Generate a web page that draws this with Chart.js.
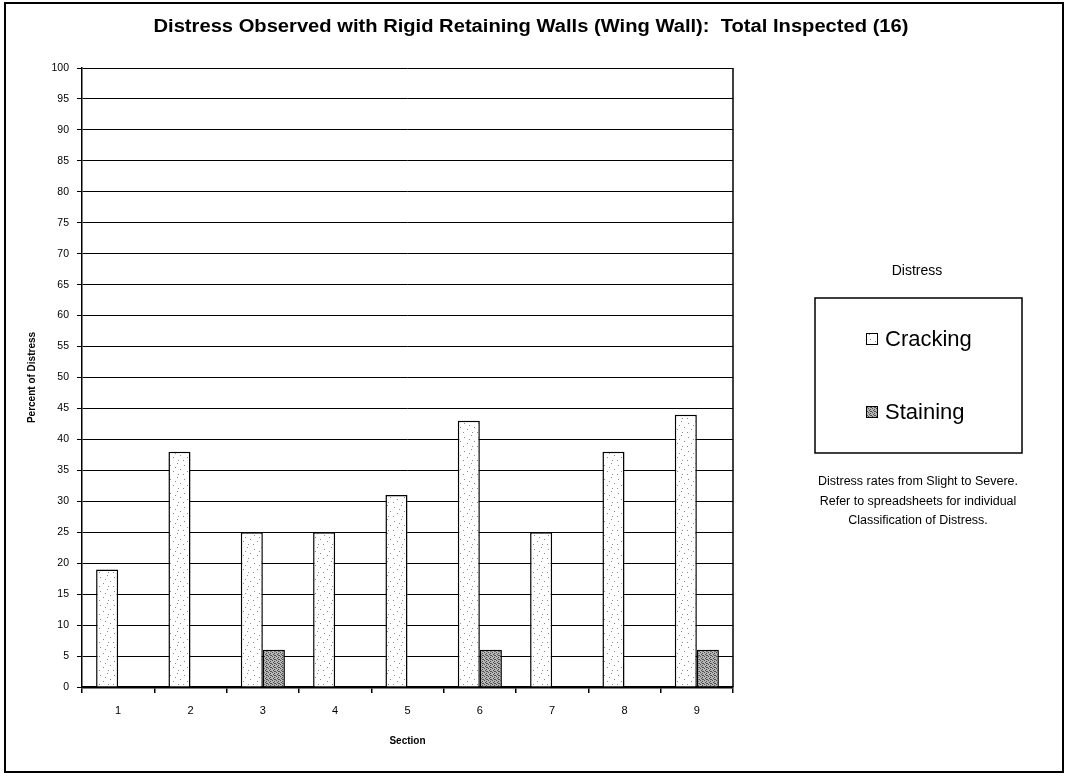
<!DOCTYPE html>
<html>
<head>
<meta charset="utf-8">
<script src="https://cdn.jsdelivr.net/npm/chart.js@4.4.0/dist/chart.umd.min.js"></script>
<style>
  html, body { margin: 0; padding: 0; background: #fff; }
  #wrap { position: relative; width: 1065px; height: 774px; }
</style>
</head>
<body>
<div id="wrap"><canvas id="chart" width="1065" height="774"></canvas></div>
<script>
const sections = ['1', '2', '3', '4', '5', '6', '7', '8', '9'];
const cracking = [19, 38, 25, 25, 31, 43, 25, 38, 44];
const staining = [0, 0, 6, 0, 0, 6, 0, 0, 6];
const seriesNames = ['Cracking', 'Staining'];
const chartTitle = 'Distress Observed with Rigid Retaining Walls (Wing Wall):  Total Inspected (16)';
const legendTitle = 'Distress';
const noteLines = [
  'Distress rates from Slight to Severe.',
  'Refer to spreadsheets for individual',
  'Classification of Distress.'
];

const FONT = '"Liberation Sans", Arial, sans-serif';

// small dotted fills, like the printed hatching
function makePattern(size, bg, dots, dotColor) {
  const c = document.createElement('canvas');
  c.width = size;
  c.height = size;
  const g = c.getContext('2d');
  g.fillStyle = bg;
  g.fillRect(0, 0, size, size);
  g.fillStyle = dotColor;
  dots.forEach(d => g.fillRect(d[0], d[1], 1, 1));
  return g.createPattern(c, 'repeat');
}
const ctx0 = document.getElementById('chart').getContext('2d');
const crackFill = makePattern(14, '#ffffff',
  [[2, 3], [9, 1], [12, 7], [5, 9], [10, 12], [1, 12], [7, 5]], '#8a8a8a');
const stainFill = makePattern(4, '#b4b4b4',
  [[0, 0], [2, 1], [1, 2], [3, 3], [2, 3]], '#505050');

const decor = {
  id: 'decor',
  beforeDraw(chart) {
    const c = chart.ctx;
    c.save();
    c.fillStyle = '#fff';
    c.fillRect(0, 0, chart.width, chart.height);
    c.restore();
  },
  afterDraw(chart) {
    const c = chart.ctx;
    const a = chart.chartArea;
    c.save();
    // outer frame
    c.strokeStyle = '#000';
    c.lineWidth = 2;
    c.strokeRect(5, 3, 1058, 769);
    // right edge of plot
    c.lineWidth = 1.5;
    c.beginPath();
    c.moveTo(a.right, a.top);
    c.lineTo(a.right, a.bottom);
    c.stroke();

    c.fillStyle = '#000';
    c.textAlign = 'center';
    c.textBaseline = 'middle';
    // title is a narrow bold face in the original, stretch to its width
    c.font = 'bold 18px ' + FONT;
    const tw = c.measureText(chartTitle).width;
    c.save();
    c.translate(531, 27);
    c.scale(755 / tw, 1);
    c.fillText(chartTitle, 0, 0);
    c.restore();

    c.font = '14px ' + FONT;
    c.fillText(legendTitle, 917, 271);

    c.lineWidth = 1.5;
    c.strokeRect(815, 298, 207, 155);

    const items = [
      { y: 339, fill: crackFill },
      { y: 412, fill: stainFill }
    ];
    c.font = '22px ' + FONT;
    c.textAlign = 'left';
    items.forEach((it, i) => {
      c.fillStyle = it.fill;
      c.fillRect(866, it.y - 6, 11, 11);
      c.lineWidth = 1;
      c.strokeStyle = '#000';
      c.strokeRect(866.5, it.y - 5.5, 11, 11);
      c.fillStyle = '#000';
      c.fillText(seriesNames[i], 885, it.y + 1);
    });

    c.font = '12.5px ' + FONT;
    c.textAlign = 'center';
    noteLines.forEach((t, i) => c.fillText(t, 918, 482 + i * 19.5));
    c.restore();
  }
};

new Chart(ctx0, {
  type: 'bar',
  data: {
    labels: sections,
    datasets: [
      {
        label: seriesNames[0],
        data: cracking,
        backgroundColor: crackFill,
        borderColor: '#000',
        borderWidth: 1.5,
        categoryPercentage: 0.61,
        barPercentage: 1
      },
      {
        label: seriesNames[1],
        data: staining,
        backgroundColor: stainFill,
        borderColor: '#000',
        borderWidth: 1.5,
        categoryPercentage: 0.61,
        barPercentage: 1
      }
    ]
  },
  options: {
    responsive: false,
    animation: false,
    layout: { padding: { left: 0, right: 332, top: 68, bottom: 0 } },
    plugins: {
      legend: { display: false },
      tooltip: { enabled: false }
    },
    scales: {
      x: {
        afterFit: s => { s.height = 87; },
        grid: {
          offset: true,
          drawOnChartArea: false,
          color: '#000',
          lineWidth: 1.5,
          tickLength: 6
        },
        border: { color: '#000', width: 2.5 },
        ticks: { color: '#000', font: { family: FONT, size: 11 }, padding: 11 },
        title: {
          display: true,
          text: 'Section',
          color: '#000',
          font: { family: FONT, size: 10, weight: 'bold' },
          padding: { top: 0, bottom: 27 }
        }
      },
      y: {
        min: 0,
        max: 100,
        afterFit: s => { s.width = 82; },
        grid: { color: '#000', lineWidth: 1, tickLength: 5 },
        border: { color: '#000', width: 1.5 },
        ticks: {
          stepSize: 5,
          color: '#000',
          font: { family: FONT, size: 10.5 },
          padding: 8
        },
        title: {
          display: true,
          text: 'Percent of Distress',
          color: '#000',
          font: { family: FONT, size: 10, weight: 'bold' },
          padding: { top: 26, bottom: 0 }
        }
      }
    }
  },
  plugins: [decor]
});
</script>
</body>
</html>
